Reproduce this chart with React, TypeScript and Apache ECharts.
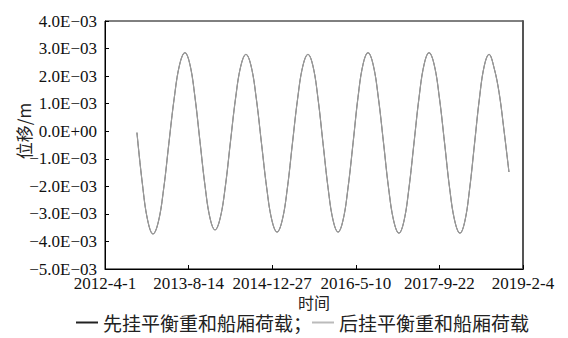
import React, { useEffect, useRef } from 'react';
import * as echarts from 'echarts';

// Series names shown in the legend
const seriesNames = ['先挂平衡重和船厢荷载', '后挂平衡重和船厢荷载'];

// Time axis: days counted from 2012-4-1, major unit of 500 days
const xTickStepDays = 500;
const xTickLabels = ['2012-4-1', '2013-8-14', '2014-12-27', '2016-5-10', '2017-9-22', '2019-2-4'];

// Displacement axis (m)
const yMin = -0.005;
const yMax = 0.004;
const yStep = 0.001;
const yTickLabels = [
  '−5.0E−03', '−4.0E−03', '−3.0E−03', '−2.0E−03', '−1.0E−03',
  '0.0E+00', '1.0E−03', '2.0E−03', '3.0E−03', '4.0E−03',
];

// Sampling days (offset from 2012-4-1)
const dayOffsets = [
  191, 223, 255, 287, 319, 351, 382, 414, 446, 478,
  508, 538, 568, 598, 628, 658, 689, 720, 750, 781,
  812, 843, 874, 905, 936, 967, 998, 1029, 1060, 1091,
  1121, 1152, 1183, 1214, 1244, 1274, 1304, 1334, 1364, 1394,
  1424, 1454, 1484, 1513, 1543, 1573, 1604, 1635, 1666, 1696,
  1727, 1758, 1788, 1818, 1848, 1878, 1908, 1938, 1969, 2000,
  2031, 2061, 2092, 2123, 2152, 2181, 2210, 2239, 2268, 2297,
  2327, 2357, 2387, 2416,
];

// Displacement in mm (both hanging sequences coincide)
const displacementMm = [
  -0.05, -1.88, -3.23, -3.73, -3.29, -2.08, -0.44, 1.20, 2.41, 2.85,
  2.42, 1.24, -0.37, -1.97, -3.15, -3.58, -3.15, -1.99, -0.40, 1.20,
  2.36, 2.79, 2.36, 1.18, -0.44, -2.05, -3.23, -3.66, -3.23, -2.05,
  -0.44, 1.18, 2.36, 2.79, 2.36, 1.18, -0.44, -2.05, -3.23, -3.66,
  -3.22, -2.03, -0.41, 1.22, 2.42, 2.85, 2.41, 1.21, -0.43, -2.06,
  -3.26, -3.70, -3.26, -2.06, -0.43, 1.21, 2.41, 2.85, 2.41, 1.21,
  -0.43, -2.06, -3.26, -3.70, -3.27, -2.08, -0.46, 1.17, 2.36, 2.79,
  2.30, 1.40, 0.00, -1.48,
];

const serif = 'Liberation Serif';
const cjk = 'Noto Sans CJK SC';

export default function App() {
  const ref = useRef<HTMLDivElement>(null);

  useEffect(() => {
    if (!ref.current) return;
    const chart = echarts.init(ref.current, undefined, { renderer: 'svg' });
    const points = dayOffsets.map((d, i) => [d, displacementMm[i] / 1000]);

    chart.setOption({
      animation: false,
      backgroundColor: '#fff',
      grid: {
        left: 105,
        right: 45,
        top: 21,
        bottom: 69,
        show: true,
        borderColor: '#000',
        borderWidth: 1,
      },
      legend: {
        data: seriesNames,
        left: 76,
        top: 313,
        padding: 0,
        icon: 'rect',
        itemWidth: 22,
        itemHeight: 2,
        itemGap: 0,
        textStyle: { fontFamily: cjk, fontSize: 19, color: '#222' },
        formatter: (name: string) => (name === seriesNames[0] ? name + '；' : name),
      },
      xAxis: {
        type: 'value',
        min: 0,
        max: xTickStepDays * (xTickLabels.length - 1),
        interval: xTickStepDays,
        name: '时间',
        nameLocation: 'middle',
        nameGap: 25,
        nameMoveOverlap: false,
        nameTextStyle: { fontFamily: cjk, fontSize: 16, color: '#222' },
        axisLine: { show: true, onZero: false, lineStyle: { color: '#000', width: 1 } },
        axisTick: { show: true, inside: true, length: 4, lineStyle: { color: '#000' } },
        axisLabel: {
          fontFamily: serif,
          fontSize: 17,
          color: '#111',
          margin: 6,
          showMinLabel: true,
          showMaxLabel: true,
          formatter: (v: number) => xTickLabels[Math.round(v / xTickStepDays)] ?? '',
        },
        splitLine: { show: false },
      },
      yAxis: [
        {
          type: 'value',
          min: yMin,
          max: yMax,
          interval: yStep,
          axisLine: { show: true, onZero: false, lineStyle: { color: '#000', width: 1 } },
          axisTick: { show: true, inside: true, length: 4, lineStyle: { color: '#000' } },
          axisLabel: {
            fontFamily: serif,
            fontSize: 17,
            color: '#111',
            margin: 8,
            formatter: (v: number) => yTickLabels[Math.round((v - yMin) / yStep)] ?? '',
          },
          splitLine: { show: false },
        },
        {
          type: 'value',
          position: 'right',
          min: yMin,
          max: yMax,
          interval: yStep,
          axisLine: { show: true, onZero: false, lineStyle: { color: '#555', width: 2 } },
          axisTick: { show: false },
          axisLabel: { show: false },
          splitLine: { show: false },
        },
      ],
      graphic: [
        {
          type: 'text',
          x: 23,
          y: 131,
          rotation: Math.PI / 2,
          style: {
            text: '位移/m',
            fontFamily: cjk,
            fontSize: 17,
            fill: '#222',
            align: 'center',
            verticalAlign: 'middle',
          },
        },
      ],
      series: [
        {
          name: seriesNames[0],
          type: 'line',
          data: points,
          showSymbol: false,
          smooth: 0.4,
          itemStyle: { color: '#222' },
          lineStyle: { color: '#555', width: 1 },
          z: 2,
        },
        {
          name: seriesNames[1],
          type: 'line',
          data: points,
          showSymbol: false,
          smooth: 0.4,
          itemStyle: { color: '#bbb' },
          lineStyle: { color: '#9a9a9a', width: 1.2 },
          z: 3,
        },
      ],
    });

    return () => chart.dispose();
  }, []);

  return (
    <div
      ref={ref}
      style={{ position: 'fixed', left: 0, top: 0, width: 568, height: 338 }}
    />
  );
}
